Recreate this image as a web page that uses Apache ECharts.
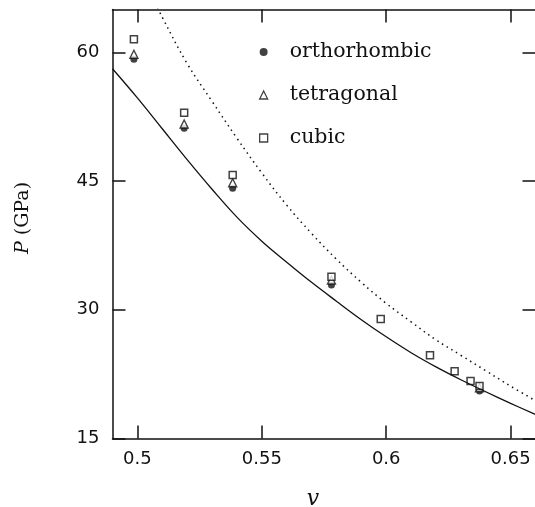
<!DOCTYPE html>
<html>
<head>
<meta charset="utf-8">
<script src="https://cdn.jsdelivr.net/npm/echarts@6/dist/echarts.min.js"></script>
<style>
  html, body { margin: 0; padding: 0; background: #fff; }
  #chart { width: 535px; height: 507px; }
</style>
</head>
<body>
<div id="chart"></div>
<script>
/**
 * DATA
 */
var xTicks = [0.5, 0.55, 0.6, 0.65];
var yTicks = [15, 30, 45, 60];

// computed points, three phases
var orthoV = [0.4986, 0.5188, 0.5383, 0.5780, 0.6375];
var orthoP = [59.2, 51.15, 44.16, 32.89, 20.54];

var tetraV = [0.4986, 0.5188, 0.5383, 0.5780, 0.6375];
var tetraP = [59.78, 51.66, 44.81, 33.47, 20.92];

var cubicV = [0.4986, 0.5188, 0.5383, 0.5780, 0.5978, 0.6176, 0.6275, 0.6339, 0.6375];
var cubicP = [61.53, 52.97, 45.71, 33.86, 28.93, 24.69, 22.83, 21.70, 21.12];

// solid curve
var solidV = [0.49, 0.50, 0.51, 0.52, 0.53, 0.54, 0.55, 0.56, 0.57, 0.58, 0.59, 0.60, 0.61, 0.62, 0.63, 0.64, 0.65, 0.66];
var solidP = [58.1, 54.7, 51.1, 47.5, 44.05, 40.8, 38.0, 35.55, 33.2, 31.0, 28.85, 26.85, 25.0, 23.35, 21.85, 20.45, 19.1, 17.8];

// dotted curve
var dottedV = [0.50, 0.51, 0.52, 0.53, 0.54, 0.55, 0.56, 0.57, 0.58, 0.59, 0.60, 0.61, 0.62, 0.63, 0.64, 0.65, 0.66];
var dottedP = [69.8, 64.1, 58.7, 54.3, 50.0, 45.95, 42.2, 38.9, 35.9, 33.2, 30.75, 28.6, 26.5, 24.7, 22.9, 21.1, 19.4];

/**
 * UTILS
 */
function zip(xs, ys) {
    return xs.map(function (x, i) { return [x, ys[i]]; });
}

function merge(a, b) {
    var out = {};
    for (var k in b) { out[k] = b[k]; }
    for (var k2 in a) { out[k2] = a[k2]; }
    return out;
}

/**
 * CODE
 */
var ink = '#111';
var sansFont = 'DejaVu Sans';
var serifFont = 'DejaVu Serif';

var tickCommon = {
    show: true,
    inside: true,
    length: 13,
    lineStyle: { color: ink, width: 1.5 }
};

var chart = echarts.init(document.getElementById('chart'), null, { renderer: 'canvas' });

var option = {
    animation: false,
    backgroundColor: '#fff',
    grid: {
        left: 112.5,
        right: -0.5,
        top: 9.5,
        bottom: 68.5,
        outerBoundsMode: 'none'
    },
    legend: {
        orient: 'vertical',
        left: 259,
        top: 41,
        padding: 0,
        itemWidth: 8,
        itemHeight: 8,
        itemGap: 21,
        textStyle: {
            fontFamily: serifFont,
            fontSize: 20.5,
            color: ink,
            lineHeight: 22,
            padding: [0, 0, 0, 17]
        },
        data: [
            { name: 'orthorhombic', icon: 'circle', itemStyle: { color: ink, borderWidth: 0 } },
            { name: 'tetragonal', icon: 'triangle', itemStyle: { color: '#fff', borderColor: ink, borderWidth: 1.3 } },
            { name: 'cubic', icon: 'rect', itemStyle: { color: '#fff', borderColor: ink, borderWidth: 1.3 } }
        ]
    },
    xAxis: [
        {
            type: 'value',
            position: 'bottom',
            min: 0.49,
            max: 0.66,
            name: 'v',
            nameLocation: 'middle',
            nameGap: 50,
            nameTextStyle: {
                fontFamily: serifFont,
                fontStyle: 'italic',
                fontSize: 22,
                color: ink,
                padding: [0, 22, 0, 0]
            },
            axisLine: { show: true, lineStyle: { color: ink, width: 1.5 } },
            axisTick: merge({ customValues: xTicks }, tickCommon),
            axisLabel: {
                customValues: xTicks,
                margin: 12,
                fontFamily: sansFont,
                fontSize: 18,
                color: ink
            },
            splitLine: { show: false }
        },
        {
            type: 'value',
            position: 'top',
            min: 0.49,
            max: 0.66,
            axisLine: { show: true, lineStyle: { color: ink, width: 1.5 } },
            axisTick: merge({ customValues: xTicks }, tickCommon),
            axisLabel: { show: false },
            splitLine: { show: false }
        }
    ],
    yAxis: [
        {
            type: 'value',
            position: 'left',
            min: 15,
            max: 65,
            name: '{i|P} (GPa)',
            nameLocation: 'middle',
            nameGap: 80,
            nameTextStyle: {
                fontFamily: serifFont,
                fontSize: 19,
                color: ink,
                padding: [0, 0, 0, 12],
                rich: {
                    i: { fontFamily: serifFont, fontStyle: 'italic', fontSize: 19, color: ink }
                }
            },
            axisLine: { show: true, lineStyle: { color: ink, width: 1.5 } },
            axisTick: merge({ customValues: yTicks }, tickCommon),
            axisLabel: {
                customValues: yTicks,
                margin: 13,
                fontFamily: sansFont,
                fontSize: 18,
                color: ink
            },
            splitLine: { show: false }
        },
        {
            type: 'value',
            position: 'right',
            min: 15,
            max: 65,
            axisLine: { show: true, lineStyle: { color: ink, width: 1.5 } },
            axisTick: merge({ customValues: yTicks }, tickCommon),
            axisLabel: { show: false },
            splitLine: { show: false }
        }
    ],
    series: [
        {
            name: 'solid',
            type: 'line',
            data: zip(solidV, solidP),
            smooth: 0.4,
            showSymbol: false,
            clip: true,
            silent: true,
            lineStyle: { color: ink, width: 1.3 }
        },
        {
            name: 'dotted',
            type: 'line',
            data: zip(dottedV, dottedP),
            smooth: 0.4,
            showSymbol: false,
            clip: true,
            silent: true,
            lineStyle: { color: ink, width: 1.5, type: [1.5, 4] }
        },
        {
            name: 'orthorhombic',
            type: 'scatter',
            data: zip(orthoV, orthoP),
            symbol: 'circle',
            symbolSize: 7,
            itemStyle: { color: ink }
        },
        {
            name: 'tetragonal',
            type: 'scatter',
            data: zip(tetraV, tetraP),
            symbol: 'triangle',
            symbolSize: 8,
            itemStyle: { color: '#fff', borderColor: ink, borderWidth: 1.4 }
        },
        {
            name: 'cubic',
            type: 'scatter',
            data: zip(cubicV, cubicP),
            symbol: 'rect',
            symbolSize: 7,
            itemStyle: { color: '#fff', borderColor: ink, borderWidth: 1.5 }
        }
    ]
};

chart.setOption(option);
</script>
</body>
</html>
